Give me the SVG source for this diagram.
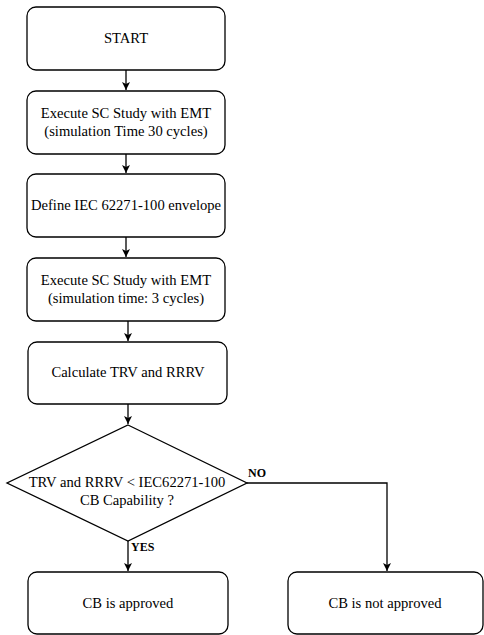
<svg xmlns="http://www.w3.org/2000/svg" width="484" height="635" viewBox="0 0 484 635">
<defs>
<style>
.box{fill:#fff;stroke:#000;stroke-width:1.3}
.t{font-family:"Liberation Serif","Times New Roman",serif;font-size:14.6px;fill:#000;text-anchor:middle}
.lbl{font-family:"Liberation Serif","Times New Roman",serif;font-size:12px;font-weight:bold;fill:#000}
.c{fill:none;stroke:#000;stroke-width:1.3}
</style>
<marker id="ah" markerWidth="10" markerHeight="10" refX="8" refY="5" orient="auto" markerUnits="userSpaceOnUse">
<path d="M0,1 L8,5 L0,9 L2,5 Z" fill="#000"/>
</marker>
</defs>
<rect width="484" height="635" fill="#fff"/>
<g id="connectors">
<path class="c" d="M126,70 V90" marker-end="url(#ah)"/>
<path class="c" d="M126,154 V173" marker-end="url(#ah)"/>
<path class="c" d="M126,237 V257" marker-end="url(#ah)"/>
<path class="c" d="M128,321 V341" marker-end="url(#ah)"/>
<path class="c" d="M128,404 V424" marker-end="url(#ah)"/>
<path class="c" d="M128,541 V571" marker-end="url(#ah)"/>
<path class="c" d="M247,483 H387 V571" marker-end="url(#ah)"/>
<text class="lbl" x="248" y="477">NO</text>
<text class="lbl" x="131" y="551">YES</text>
</g>
<g id="start">
<rect class="box" x="27" y="7" width="198" height="63" rx="9"/>
<text class="t" x="126" y="43">START</text>
</g>
<g id="emt30">
<rect class="box" x="27" y="91" width="198" height="63" rx="9"/>
<text class="t" x="126" y="118">Execute SC Study with EMT</text>
<text class="t" x="126" y="136">(simulation Time 30 cycles)</text>
</g>
<g id="envelope">
<rect class="box" x="27" y="174" width="198" height="63" rx="9"/>
<text class="t" x="126" y="210">Define IEC 62271-100 envelope</text>
</g>
<g id="emt3">
<rect class="box" x="27" y="258" width="198" height="63" rx="9"/>
<text class="t" x="126" y="285">Execute SC Study with EMT</text>
<text class="t" x="126" y="303">(simulation time: 3 cycles)</text>
</g>
<g id="calc">
<rect class="box" x="28" y="342" width="199" height="62" rx="9"/>
<text class="t" x="128" y="377">Calculate TRV and RRRV</text>
</g>
<g id="decision">
<polygon class="box" points="128,425 247,483 128,541 7,483"/>
<text class="t" x="127" y="487">TRV and RRRV &lt; IEC62271-100</text>
<text class="t" x="127" y="505">CB Capability ?</text>
</g>
<g id="approved">
<rect class="box" x="28" y="572" width="200" height="62" rx="9"/>
<text class="t" x="128" y="608">CB is approved</text>
</g>
<g id="notapproved">
<rect class="box" x="288" y="572" width="195" height="62" rx="9"/>
<text class="t" x="385" y="608">CB is not approved</text>
</g>
</svg>
